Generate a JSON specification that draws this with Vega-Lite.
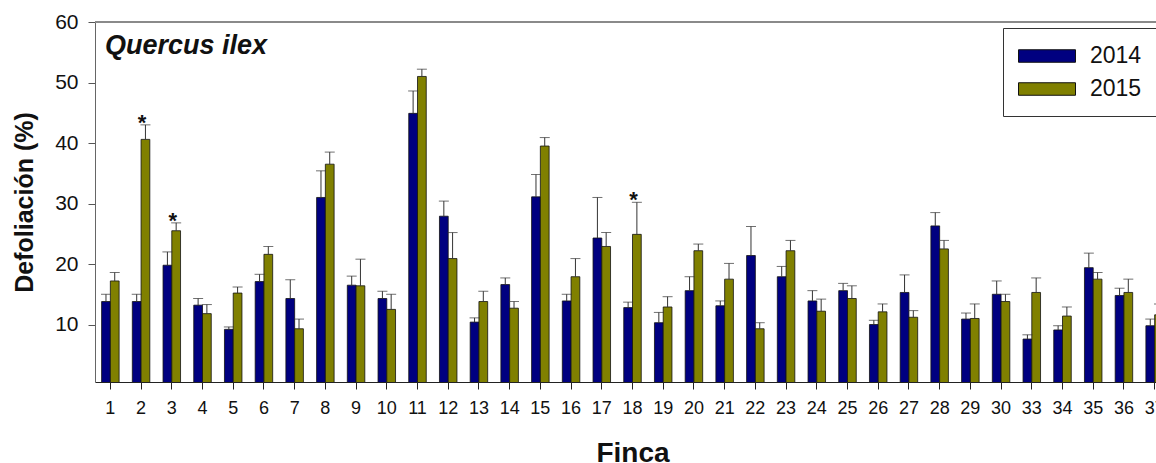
{
  "$schema": "https://vega.github.io/schema/vega-lite/v6.json",
  "width": 1061,
  "height": 360,
  "autosize": {"type": "none"},
  "padding": {"left": 95, "top": 22, "right": 0, "bottom": 81},
  "background": "white",
  "config": {
    "font": "Liberation Sans",
    "view": {"stroke": null},
    "axis": {"labelColor": "#111", "titleColor": "#111", "grid": false}
  },
  "title": {
    "text": "Quercus ilex",
    "anchor": "start",
    "frame": "group",
    "orient": "top",
    "offset": 0,
    "dx": 10,
    "dy": 70,
    "baseline": "alphabetic",
    "fontSize": 27,
    "fontStyle": "italic",
    "fontWeight": "bold",
    "color": "#111"
  },
  "datasets": {
    "def": [
      {"finca": "1", "year": "2014", "def": 13.8, "sup": 15.0, "sig": ""},
      {"finca": "1", "year": "2015", "def": 17.2, "sup": 18.6, "sig": ""},
      {"finca": "2", "year": "2014", "def": 13.8, "sup": 15.0, "sig": ""},
      {"finca": "2", "year": "2015", "def": 40.6, "sup": 43.0, "sig": "*"},
      {"finca": "3", "year": "2014", "def": 19.8, "sup": 22.0, "sig": ""},
      {"finca": "3", "year": "2015", "def": 25.5, "sup": 26.8, "sig": "*"},
      {"finca": "4", "year": "2014", "def": 13.2, "sup": 14.3, "sig": ""},
      {"finca": "4", "year": "2015", "def": 11.8, "sup": 13.3, "sig": ""},
      {"finca": "5", "year": "2014", "def": 9.2, "sup": 9.6, "sig": ""},
      {"finca": "5", "year": "2015", "def": 15.2, "sup": 16.2, "sig": ""},
      {"finca": "6", "year": "2014", "def": 17.1, "sup": 18.3, "sig": ""},
      {"finca": "6", "year": "2015", "def": 21.6, "sup": 22.9, "sig": ""},
      {"finca": "7", "year": "2014", "def": 14.3, "sup": 17.4, "sig": ""},
      {"finca": "7", "year": "2015", "def": 9.3, "sup": 10.9, "sig": ""},
      {"finca": "8", "year": "2014", "def": 31.0, "sup": 35.4, "sig": ""},
      {"finca": "8", "year": "2015", "def": 36.5, "sup": 38.5, "sig": ""},
      {"finca": "9", "year": "2014", "def": 16.5, "sup": 18.0, "sig": ""},
      {"finca": "9", "year": "2015", "def": 16.4, "sup": 20.8, "sig": ""},
      {"finca": "10", "year": "2014", "def": 14.3, "sup": 15.5, "sig": ""},
      {"finca": "10", "year": "2015", "def": 12.5, "sup": 15.0, "sig": ""},
      {"finca": "11", "year": "2014", "def": 44.9, "sup": 48.6, "sig": ""},
      {"finca": "11", "year": "2015", "def": 51.0, "sup": 52.2, "sig": ""},
      {"finca": "12", "year": "2014", "def": 27.9, "sup": 30.4, "sig": ""},
      {"finca": "12", "year": "2015", "def": 20.9, "sup": 25.2, "sig": ""},
      {"finca": "13", "year": "2014", "def": 10.4, "sup": 11.1, "sig": ""},
      {"finca": "13", "year": "2015", "def": 13.8, "sup": 15.5, "sig": ""},
      {"finca": "14", "year": "2014", "def": 16.6, "sup": 17.7, "sig": ""},
      {"finca": "14", "year": "2015", "def": 12.7, "sup": 13.8, "sig": ""},
      {"finca": "15", "year": "2014", "def": 31.1, "sup": 34.8, "sig": ""},
      {"finca": "15", "year": "2015", "def": 39.5, "sup": 40.9, "sig": ""},
      {"finca": "16", "year": "2014", "def": 13.9, "sup": 15.0, "sig": ""},
      {"finca": "16", "year": "2015", "def": 17.9, "sup": 20.9, "sig": ""},
      {"finca": "17", "year": "2014", "def": 24.3, "sup": 31.0, "sig": ""},
      {"finca": "17", "year": "2015", "def": 22.9, "sup": 25.2, "sig": ""},
      {"finca": "18", "year": "2014", "def": 12.8, "sup": 13.7, "sig": ""},
      {"finca": "18", "year": "2015", "def": 24.9, "sup": 30.2, "sig": "*"},
      {"finca": "19", "year": "2014", "def": 10.3, "sup": 12.0, "sig": ""},
      {"finca": "19", "year": "2015", "def": 12.9, "sup": 14.6, "sig": ""},
      {"finca": "20", "year": "2014", "def": 15.6, "sup": 17.9, "sig": ""},
      {"finca": "20", "year": "2015", "def": 22.2, "sup": 23.3, "sig": ""},
      {"finca": "21", "year": "2014", "def": 13.1, "sup": 13.9, "sig": ""},
      {"finca": "21", "year": "2015", "def": 17.5, "sup": 20.1, "sig": ""},
      {"finca": "22", "year": "2014", "def": 21.4, "sup": 26.2, "sig": ""},
      {"finca": "22", "year": "2015", "def": 9.3, "sup": 10.3, "sig": ""},
      {"finca": "23", "year": "2014", "def": 17.9, "sup": 19.6, "sig": ""},
      {"finca": "23", "year": "2015", "def": 22.2, "sup": 23.9, "sig": ""},
      {"finca": "24", "year": "2014", "def": 13.9, "sup": 15.6, "sig": ""},
      {"finca": "24", "year": "2015", "def": 12.2, "sup": 14.2, "sig": ""},
      {"finca": "25", "year": "2014", "def": 15.6, "sup": 16.8, "sig": ""},
      {"finca": "25", "year": "2015", "def": 14.3, "sup": 16.4, "sig": ""},
      {"finca": "26", "year": "2014", "def": 10.0, "sup": 10.7, "sig": ""},
      {"finca": "26", "year": "2015", "def": 12.1, "sup": 13.4, "sig": ""},
      {"finca": "27", "year": "2014", "def": 15.3, "sup": 18.2, "sig": ""},
      {"finca": "27", "year": "2015", "def": 11.2, "sup": 12.3, "sig": ""},
      {"finca": "28", "year": "2014", "def": 26.3, "sup": 28.5, "sig": ""},
      {"finca": "28", "year": "2015", "def": 22.5, "sup": 23.9, "sig": ""},
      {"finca": "29", "year": "2014", "def": 10.9, "sup": 11.9, "sig": ""},
      {"finca": "29", "year": "2015", "def": 11.0, "sup": 13.4, "sig": ""},
      {"finca": "30", "year": "2014", "def": 15.0, "sup": 17.2, "sig": ""},
      {"finca": "30", "year": "2015", "def": 13.8, "sup": 15.0, "sig": ""},
      {"finca": "33", "year": "2014", "def": 7.6, "sup": 8.3, "sig": ""},
      {"finca": "33", "year": "2015", "def": 15.3, "sup": 17.7, "sig": ""},
      {"finca": "34", "year": "2014", "def": 9.1, "sup": 9.8, "sig": ""},
      {"finca": "34", "year": "2015", "def": 11.4, "sup": 12.9, "sig": ""},
      {"finca": "35", "year": "2014", "def": 19.4, "sup": 21.8, "sig": ""},
      {"finca": "35", "year": "2015", "def": 17.5, "sup": 18.6, "sig": ""},
      {"finca": "36", "year": "2014", "def": 14.8, "sup": 16.0, "sig": ""},
      {"finca": "36", "year": "2015", "def": 15.3, "sup": 17.5, "sig": ""},
      {"finca": "37", "year": "2014", "def": 9.8, "sup": 10.9, "sig": ""},
      {"finca": "37", "year": "2015", "def": 11.6, "sup": 13.4, "sig": ""}
    ]
  },
  "data": {"name": "def"},
  "layer": [
    {
      "mark": {"type": "bar", "stroke": "#111", "strokeWidth": 0.8, "clip": true, "opacity": 1},
      "encoding": {
        "x": {
          "field": "finca",
          "type": "ordinal",
          "sort": null,
          "scale": {"range": [0, 1075], "paddingInner": 0.43, "paddingOuter": 0.215},
          "axis": {
            "title": "Finca",
            "labelAngle": 0,
            "labelFontSize": 18,
            "labelPadding": 10,
            "tickSize": 7,
            "tickColor": "#222",
            "domainColor": "#222",
            "titleFontSize": 28,
            "titleFontWeight": "bold",
            "titlePadding": 22
          }
        },
        "xOffset": {"field": "year", "type": "nominal"},
        "y": {
          "field": "def",
          "type": "quantitative",
          "scale": {"domain": [0.5, 60], "nice": false, "zero": false},
          "axis": {
            "title": "Defoliación (%)",
            "values": [10, 20, 30, 40, 50, 60],
            "labelFontSize": 21,
            "labelPadding": 10,
            "tickSize": 7,
            "tickColor": "#555",
            "domainColor": "#666",
            "titleFontSize": 25,
            "titleFontWeight": "bold",
            "titlePadding": 17
          }
        },
        "color": {
          "field": "year",
          "type": "nominal",
          "scale": {"domain": ["2014", "2015"], "range": ["#000080", "#808000"]},
          "legend": {
            "title": null,
            "orient": "none",
            "legendX": 908,
            "legendY": 6,
            "strokeColor": "#333",
            "padding": 15,
            "symbolType": "M-1,-0.5H3.56V0.5H-1Z",
            "symbolSize": 625,
            "symbolStrokeColor": "#111",
            "symbolStrokeWidth": 1,
            "symbolOpacity": 1,
            "labelFontSize": 23,
            "labelColor": "#111",
            "labelOffset": 46,
            "rowPadding": 8
          }
        }
      }
    },
    {
      "mark": {"type": "rule", "color": "#8a8a8a", "strokeWidth": 1.5},
      "encoding": {"y": {"datum": 60}}
    },
    {
      "mark": {"type": "rule", "color": "#333", "strokeWidth": 1, "clip": true},
      "encoding": {
        "x": {"field": "finca", "type": "ordinal", "sort": null},
        "xOffset": {"field": "year", "type": "nominal"},
        "y": {"field": "def", "type": "quantitative"},
        "y2": {"field": "sup"}
      }
    },
    {
      "mark": {"type": "tick", "color": "#333", "size": 10, "thickness": 1, "clip": true},
      "encoding": {
        "x": {"field": "finca", "type": "ordinal", "sort": null},
        "xOffset": {"field": "year", "type": "nominal"},
        "y": {"field": "sup", "type": "quantitative"}
      }
    },
    {
      "transform": [{"filter": "datum.sig == '*'"}],
      "mark": {"type": "text", "fontSize": 22, "fontWeight": "bold", "baseline": "alphabetic", "dy": 5, "dx": 1, "color": "#111"},
      "encoding": {
        "x": {"field": "finca", "type": "ordinal", "sort": null},
        "y": {"field": "sup", "type": "quantitative"},
        "text": {"field": "sig"}
      }
    }
  ]
}
